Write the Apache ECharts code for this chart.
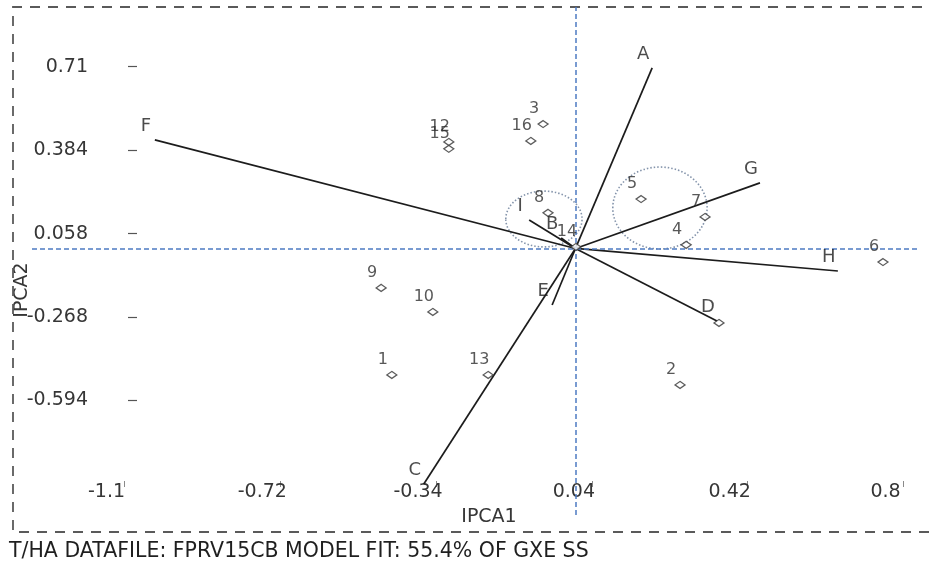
<!DOCTYPE html>
<html>
<head>
<meta charset="utf-8">
<script src="https://cdn.jsdelivr.net/npm/echarts@6/dist/echarts.min.js"></script>
<style>
  html, body { margin: 0; padding: 0; background: #ffffff; }
  #chart { width: 929px; height: 566px; }
</style>
</head>
<body>
<div id="chart"></div>
<script>
// Genotype scores on the first two interaction principal components
const genotypes = ['1', '2', '3', '4', '5', '6', '7', '8', '9', '10', '11', '12', '13', '14', '15', '16'];
const genoIPCA1 = [-0.448, 0.255, -0.079, 0.270, 0.160, 0.750, 0.316, -0.067, -0.474, -0.348, 0.350, -0.309, -0.213, 0.001, -0.309, -0.109];
const genoIPCA2 = [-0.494, -0.533, 0.486, 0.014, 0.193, -0.053, 0.123, 0.139, -0.154, -0.248, -0.291, 0.416, -0.494, 0.006, 0.389, 0.420];
// genotype whose label sits underneath an environment label
const hiddenGenoLabels = ['11'];

// Environment scores, drawn as vectors from the origin
const environments = ['A', 'B', 'C', 'D', 'E', 'F', 'G', 'H', 'I'];
const envIPCA1 = [0.187, -0.035, -0.370, 0.345, -0.057, -1.026, 0.450, 0.640, -0.113];
const envIPCA2 = [0.705, 0.041, -0.920, -0.283, -0.221, 0.424, 0.256, -0.088, 0.111];

// Printed tick values
const xTickValues = [-1.1, -0.72, -0.34, 0.04, 0.42, 0.8];
const xTickLabels = ['-1.1', '-0.72', '-0.34', '0.04', '0.42', '0.8'];
const yTickValues = [0.71, 0.384, 0.058, -0.268, -0.594];
const yTickLabels = ['0.71', '0.384', '0.058', '-0.268', '-0.594'];

// Dotted groupings: centre and radii in IPCA units
const groupCentreX = [-0.077, 0.206];
const groupCentreY = [0.115, 0.158];
const groupRadiusX = [0.093, 0.115];
const groupRadiusY = [0.109, 0.160];

const FONT = "'DejaVu Sans', 'Liberation Sans', sans-serif";

function tickText(v, values, labels) {
  for (let i = 0; i < values.length; i++) {
    if (Math.abs(v - values[i]) < 1e-9) return labels[i];
  }
  return '';
}

const chart = echarts.init(document.getElementById('chart'), null, { renderer: 'canvas' });

const option = {
  backgroundColor: '#ffffff',
  animation: false,
  title: {
    text: 'T/HA DATAFILE: FPRV15CB MODEL FIT: 55.4% OF GXE SS',
    left: 9,
    top: 541,
    padding: 0,
    textStyle: { fontFamily: FONT, fontSize: 20.5, fontWeight: 'normal', color: '#1f1f1f' }
  },
  grid: { left: 32, top: 7, width: 886, height: 508, containLabel: false, outerBoundsMode: 'none' },
  xAxis: {
    type: 'value',
    min: -1.3256,
    max: 0.8354,
    offset: -28,
    splitLine: { show: false },
    axisLine: { show: false, onZero: false },
    axisTick: {
      show: true, inside: true, length: 6, customValues: xTickValues,
      lineStyle: { color: '#8a8a8a', width: 1 }
    },
    axisLabel: {
      customValues: xTickValues,
      formatter: v => tickText(v, xTickValues, xTickLabels),
      margin: -4,
      padding: [0, 36, 0, 0],
      fontFamily: FONT, fontSize: 19, color: '#363636'
    },
    name: 'IPCA1',
    nameLocation: 'middle',
    nameGap: 21,
    nameMoveOverlap: false,
    nameTextStyle: { fontFamily: FONT, fontSize: 19, color: '#363636', padding: [0, 0, 0, 28] }
  },
  yAxis: {
    type: 'value',
    min: -1.041,
    max: 0.943,
    offset: -105,
    splitLine: { show: false },
    axisLine: { show: false, onZero: false },
    axisTick: {
      show: true, inside: false, length: 9, customValues: yTickValues,
      lineStyle: { color: '#555555', width: 1.2 }
    },
    axisLabel: {
      customValues: yTickValues,
      formatter: v => tickText(v, yTickValues, yTickLabels),
      margin: 49,
      fontFamily: FONT, fontSize: 19, color: '#363636'
    },
    name: 'IPCA2',
    nameLocation: 'middle',
    nameGap: 105,
    nameRotate: 90,
    nameMoveOverlap: false,
    nameTextStyle: { fontFamily: FONT, fontSize: 19, color: '#363636', padding: [0, 58, 0, 0] }
  },
  graphic: [{
    // dashed frame around the plot (open on the right)
    type: 'polyline',
    silent: true,
    z: 1,
    shape: { points: [[940, 7], [13, 7], [13, 532], [940, 532]] },
    style: { stroke: '#5a5a5a', lineWidth: 1.8, lineDash: [10, 8], fill: 'none' }
  }],
  series: [
    {
      // origin reference lines
      type: 'scatter',
      data: [],
      silent: true,
      markLine: {
        silent: true,
        symbol: ['none', 'none'],
        label: { show: false },
        lineStyle: { color: '#4d7bc2', width: 1.5, type: [5, 3] },
        data: [{ xAxis: 0 }, { yAxis: 0 }]
      },
      z: 2
    },
    {
      // dotted ellipses
      type: 'custom',
      silent: true,
      clip: false,
      z: 3,
      data: groupCentreX.map((x, i) => [x, groupCentreY[i], groupRadiusX[i], groupRadiusY[i]]),
      encode: { x: 0, y: 1 },
      renderItem: (params, api) => {
        const c = api.coord([api.value(0), api.value(1)]);
        const s = api.size([api.value(2), api.value(3)]);
        return {
          type: 'ellipse',
          shape: { cx: c[0], cy: c[1], rx: s[0], ry: s[1] },
          style: { fill: 'none', stroke: '#8494ab', lineWidth: 1.6, lineDash: [1.5, 2] }
        };
      }
    },
    {
      // environment vectors
      type: 'lines',
      coordinateSystem: 'cartesian2d',
      silent: true,
      z: 4,
      lineStyle: { color: '#1c1c1c', width: 1.7, opacity: 1 },
      data: environments.map((e, i) => ({ coords: [[0, 0], [envIPCA1[i], envIPCA2[i]]] }))
    },
    {
      // genotype points
      type: 'scatter',
      silent: true,
      clip: false,
      z: 5,
      symbol: 'diamond',
      symbolSize: [10, 7],
      itemStyle: { color: '#ffffff', borderColor: '#333333', borderWidth: 1.3 },
      label: {
        show: true, position: 'inside', offset: [-9, -15],
        formatter: p => p.name,
        fontFamily: FONT, fontSize: 16, color: '#2e2e2e'
      },
      data: genotypes.map((g, i) => ({
        name: g,
        value: [genoIPCA1[i], genoIPCA2[i]],
        label: { show: hiddenGenoLabels.indexOf(g) < 0 }
      }))
    },
    {
      // environment labels at the vector tips
      type: 'scatter',
      silent: true,
      clip: false,
      z: 6,
      symbolSize: 1,
      itemStyle: { color: 'rgba(0,0,0,0)' },
      label: {
        show: true, position: 'inside', offset: [-9, -14],
        formatter: p => p.name,
        fontFamily: FONT, fontSize: 18, color: '#1e1e1e'
      },
      data: environments.map((e, i) => ({ name: e, value: [envIPCA1[i], envIPCA2[i]] }))
    }
  ]
};

chart.setOption(option);
</script>
</body>
</html>
